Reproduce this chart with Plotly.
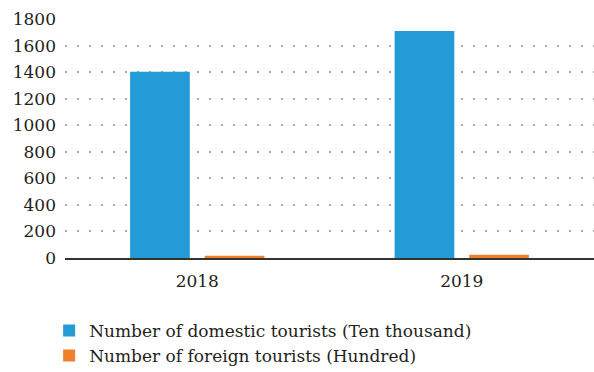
import plotly.graph_objects as go

years = ["2018", "2019"]
domestic = [1402, 1710]
foreign = [17, 25]
y_ticks = [0, 200, 400, 600, 800, 1000, 1200, 1400, 1600, 1800]

font_family = "DejaVu Serif"

fig = go.Figure()
fig.add_trace(go.Bar(x=years, y=domestic, name="Number of domestic tourists (Ten thousand)",
                     marker=dict(color="#239bd6", line=dict(width=0))))
fig.add_trace(go.Bar(x=years, y=foreign, name="Number of foreign tourists (Hundred)",
                     marker=dict(color="#f07f2a", line=dict(width=0))))

fig.update_layout(
    width=594, height=372,
    margin=dict(l=65, r=0, t=19, b=114, autoexpand=False),
    paper_bgcolor="white", plot_bgcolor="white",
    barmode="group", bargap=0.436, bargroupgap=0.2,
    font=dict(family=font_family, size=16, color="#231f20"),
    showlegend=True,
    legend=dict(orientation="v",
                x=-0.03, y=-0.23, xanchor="left", yanchor="top",
                font=dict(family=font_family, size=17, color="#231f20"),
                bgcolor="rgba(0,0,0,0)"),
    xaxis=dict(showgrid=False, showline=True, linecolor="#333333", linewidth=1.5,
               ticks="", ticklabelstandoff=7, tickfont=dict(family=font_family, size=17)),
    yaxis=dict(range=[0, 1800], tickvals=y_ticks, showgrid=True,
               gridcolor="#aaaaaa", gridwidth=2, griddash="2px,10px",
               zeroline=False, showline=False, ticks="", ticklabelstandoff=8,
               tickfont=dict(family=font_family, size=17)),
)

fig.write_html("out.html")
